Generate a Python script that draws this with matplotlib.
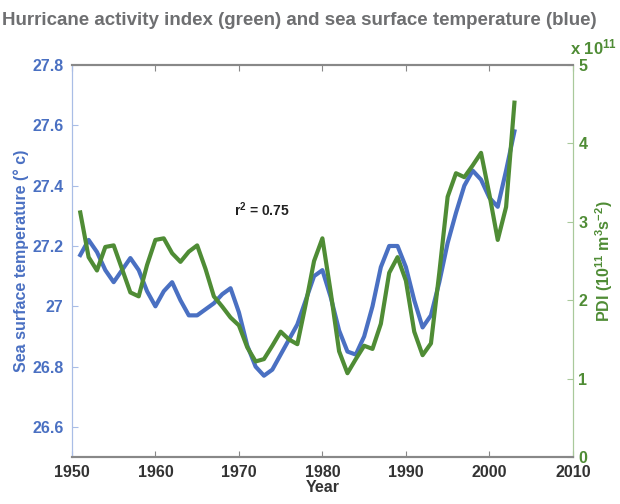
import matplotlib
matplotlib.use('Agg')
import matplotlib.pyplot as plt

years = list(range(1951, 2004))

# sea surface temperature (deg C)
sst = [27.17, 27.22, 27.18, 27.12, 27.08, 27.12, 27.16, 27.12, 27.05, 27.00,
       27.05, 27.08, 27.02, 26.97, 26.97, 26.99, 27.01, 27.04, 27.06, 26.98,
       26.87, 26.80, 26.77, 26.79, 26.84, 26.89, 26.94, 27.02, 27.10, 27.12,
       27.03, 26.92, 26.85, 26.84, 26.90, 27.00, 27.13, 27.20, 27.20, 27.13,
       27.02, 26.93, 26.97, 27.08, 27.21, 27.31, 27.40, 27.45, 27.42, 27.36,
       27.33, 27.45, 27.58]

# power dissipation index (x 1e11)
pdi = [3.12, 2.55, 2.38, 2.68, 2.70, 2.40, 2.10, 2.05, 2.45, 2.77,
       2.79, 2.60, 2.49, 2.62, 2.70, 2.40, 2.05, 1.92, 1.78, 1.68,
       1.40, 1.22, 1.25, 1.42, 1.60, 1.50, 1.44, 1.95, 2.50, 2.79,
       2.10, 1.35, 1.07, 1.25, 1.42, 1.38, 1.70, 2.35, 2.55, 2.25,
       1.60, 1.30, 1.45, 2.35, 3.32, 3.62, 3.57, 3.72, 3.88, 3.35,
       2.77, 3.19, 4.52]

sst_ticks = [26.6, 26.8, 27, 27.2, 27.4, 27.6, 27.8]
sst_labels = ['26.6', '26.8', '27', '27.2', '27.4', '27.6', '27.8']
pdi_ticks = [0, 1, 2, 3, 4, 5]
year_ticks = [1950, 1960, 1970, 1980, 1990, 2000, 2010]

blue = '#4a70c2'
green = '#4f8c35'
grey = '#6e6f71'

plt.rcParams['font.family'] = ['Liberation Sans', 'DejaVu Sans']
plt.rcParams['font.weight'] = 'bold'
plt.rcParams['axes.labelweight'] = 'bold'
plt.rcParams['mathtext.fontset'] = 'custom'
plt.rcParams['mathtext.rm'] = 'Liberation Sans:bold'
plt.rcParams['mathtext.bf'] = 'Liberation Sans:bold'
plt.rcParams['mathtext.it'] = 'Liberation Sans:bold'
plt.rcParams['mathtext.default'] = 'rm'

fig = plt.figure(figsize=(6.2, 5.04), dpi=100, facecolor='white')
ax = fig.add_axes([0.116, 0.093, 0.808, 0.778])
ax2 = ax.twinx()

ax.plot(years, sst, color=blue, linewidth=3, zorder=2)
ax2.plot(years, pdi, color=green, linewidth=3, zorder=3)

ax.set_xlim(1950, 2010)
ax.set_ylim(26.5, 27.8)
ax2.set_ylim(0, 5)

ax.set_xticks(year_ticks)
ax.set_yticks(sst_ticks)
ax.set_yticklabels(sst_labels)
ax2.set_yticks(pdi_ticks)

ax.tick_params(axis='x', direction='in', top=True, length=4, color='#888888',
               labelsize=11.5, labelcolor='#333333', pad=6)
ax.tick_params(axis='y', direction='in', length=4, color='#a9bde6',
               labelsize=11.5, labelcolor=blue, pad=6)
ax2.tick_params(axis='y', direction='in', length=4, color='#a9c99b',
                labelsize=11.5, labelcolor=green, pad=4)

for a in (ax, ax2):
    a.spines['top'].set_color('#888888')
    a.spines['bottom'].set_color('#888888')
    a.spines['left'].set_color('#a9bde6')
    a.spines['right'].set_color('#a9c99b')
    a.spines['top'].set_linewidth(1.5)
    a.spines['bottom'].set_linewidth(1.5)

ax.set_xlabel('Year', fontsize=11.5, color='#333333', labelpad=0)
ax.set_ylabel('Sea surface temperature (\u00b0 c)', fontsize=11.5,
              color=blue, labelpad=2)
ax2.set_ylabel('PDI (10$^{11}$ m$^{3}$s$^{-2}$)', fontsize=11.5,
               color=green, labelpad=4)

ax.text(1972.8, 27.32, 'r$^{2}$ = 0.75', fontsize=10, color='#222222',
        ha='center', va='center')
ax2.text(0.995, 1.045, 'x 10$^{11}$', transform=ax2.transAxes, fontsize=12,
         color=green, ha='left', va='center')

fig.text(0.003, 0.96, 'Hurricane activity index (green) and sea surface temperature (blue)',
         fontsize=13.5, color=grey, ha='left', va='center')

fig.savefig('out.png', dpi=100)
